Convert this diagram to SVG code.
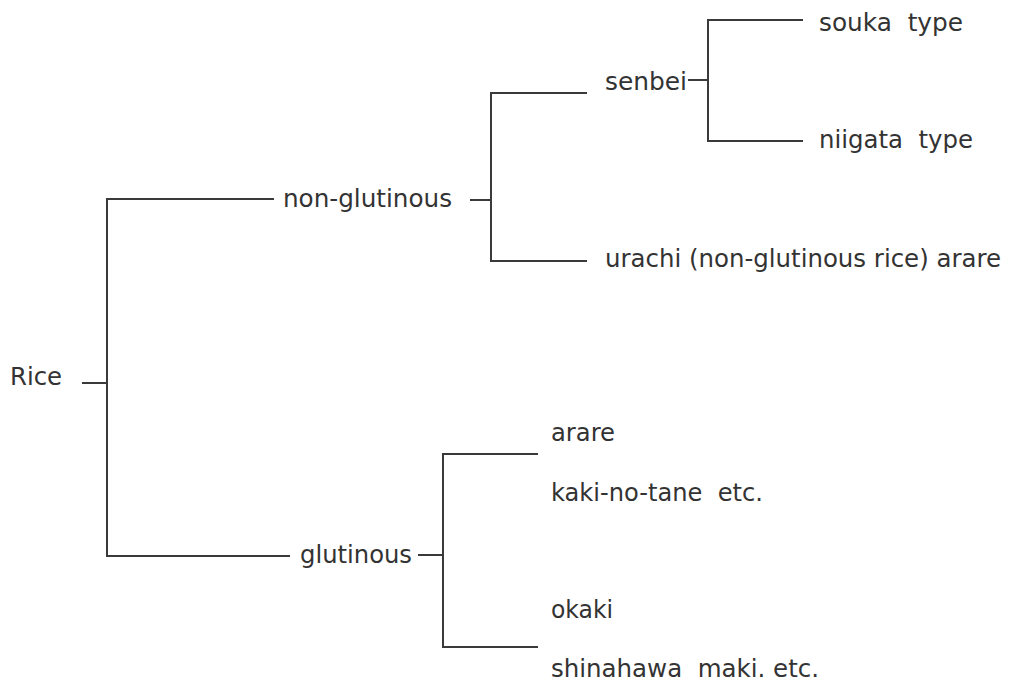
<svg xmlns="http://www.w3.org/2000/svg" width="1009" height="682" viewBox="0 0 1009 682">
<style>
  text { font-family: "DejaVu Sans", "Liberation Sans", sans-serif; font-size: 24px; fill: #333333; white-space: pre; }
  .c line { stroke: #3a3a3a; stroke-width: 2; fill: none; }
</style>
<rect x="0" y="0" width="1009" height="682" fill="#ffffff"/>
<g class="c" id="connectors">
  <line x1="82" y1="383" x2="107" y2="383"/>
  <line x1="107" y1="198" x2="107" y2="557"/>
  <line x1="106" y1="199" x2="274" y2="199"/>
  <line x1="106" y1="556" x2="290" y2="556"/>
  <line x1="470" y1="200" x2="491" y2="200"/>
  <line x1="491" y1="92" x2="491" y2="262"/>
  <line x1="490" y1="93" x2="587" y2="93"/>
  <line x1="490" y1="261" x2="587" y2="261"/>
  <line x1="688" y1="80" x2="708" y2="80"/>
  <line x1="708" y1="19" x2="708" y2="142"/>
  <line x1="707" y1="20" x2="803" y2="20"/>
  <line x1="707" y1="141" x2="803" y2="141"/>
  <line x1="418" y1="555" x2="443" y2="555"/>
  <line x1="443" y1="453" x2="443" y2="648"/>
  <line x1="442" y1="454" x2="538" y2="454"/>
  <line x1="442" y1="647" x2="538" y2="647"/>
</g>
<g id="rice"><text x="10" y="385" textLength="52" lengthAdjust="spacingAndGlyphs">Rice</text></g>
<g id="non-glutinous"><text x="283" y="207" textLength="169" lengthAdjust="spacingAndGlyphs">non-glutinous</text></g>
<g id="senbei"><text x="605" y="90" textLength="82" lengthAdjust="spacingAndGlyphs">senbei</text></g>
<g id="souka"><text x="819" y="31" textLength="144" lengthAdjust="spacingAndGlyphs">souka  type</text></g>
<g id="niigata"><text x="819" y="148" textLength="154" lengthAdjust="spacingAndGlyphs">niigata  type</text></g>
<g id="urachi"><text x="605" y="267" textLength="396" lengthAdjust="spacingAndGlyphs">urachi (non-glutinous rice) arare</text></g>
<g id="glutinous"><text x="300" y="563" textLength="112" lengthAdjust="spacingAndGlyphs">glutinous</text></g>
<g id="arare"><text x="551" y="441" textLength="64" lengthAdjust="spacingAndGlyphs">arare</text></g>
<g id="kaki-no-tane"><text x="551" y="501" textLength="212" lengthAdjust="spacingAndGlyphs">kaki-no-tane  etc.</text></g>
<g id="okaki"><text x="551" y="618" textLength="62" lengthAdjust="spacingAndGlyphs">okaki</text></g>
<g id="shinahawa"><text x="551" y="677" textLength="268" lengthAdjust="spacingAndGlyphs">shinahawa  maki. etc.</text></g>
</svg>
